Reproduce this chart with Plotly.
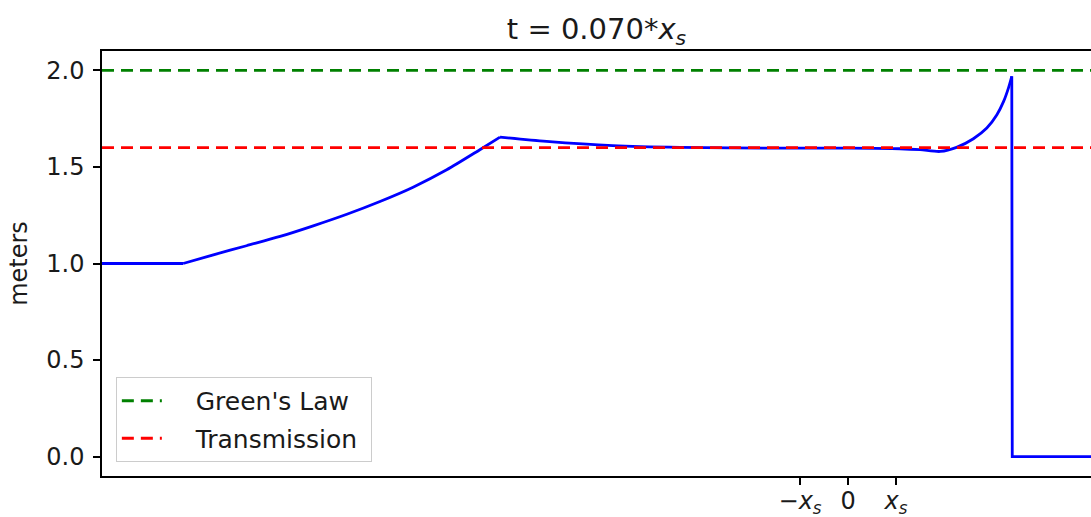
import plotly.graph_objects as go

# x in units of x_s
x_wave = [-15.54, -13.85, -13.22, -12.53, -11.83, -11.14, -10.44, -9.75, -9.06, -8.36,
          -7.67, -7.25, -6.28, -4.90, -3.50, -1.42, 0.0, 1.08, 1.50, 1.92, 2.26, 2.61,
          2.89, 3.10, 3.24, 3.34, 3.41, 3.42, 5.06]
h_wave = [1.0, 1.0, 1.045, 1.092, 1.140, 1.195, 1.255, 1.321, 1.395, 1.485,
          1.589, 1.654, 1.632, 1.610, 1.601, 1.597, 1.597, 1.594, 1.589, 1.580, 1.601, 1.646,
          1.701, 1.770, 1.839, 1.908, 1.969, 0.0, 0.0]

x_span = [-15.54, 5.06]
greens_law = [2.0, 2.0]
transmission = [1.6, 1.6]

xtick_vals = [-1, 0, 1]
xtick_text = ["\u2212<i>x<sub>s</sub></i>", "0", "<i>x<sub>s</sub></i>"]
ytick_vals = [0.0, 0.5, 1.0, 1.5, 2.0]

FONT = "DejaVu Sans"
BLUE = "#0000ff"
LW = 2.8
PAD = "\u00a0\u00a0\u00a0\u2009"

fig = go.Figure()
# piecewise: flat | smooth rise | smooth decay+spike | drop
segments = [(0, 2, "linear"), (1, 12, "spline"), (11, 27, "spline"), (26, 29, "linear")]
for a, b, shape in segments:
    fig.add_trace(go.Scatter(x=x_wave[a:b], y=h_wave[a:b], mode="lines",
                             line=dict(color=BLUE, width=LW, shape=shape, smoothing=0.8),
                             showlegend=False))
fig.add_trace(go.Scatter(x=x_span, y=greens_law, mode="lines",
                         name=PAD + "Green's Law",
                         legendgroup="g", line=dict(color="#008000", width=LW, dash="12px,7px")))
fig.add_trace(go.Scatter(x=x_span, y=transmission, mode="lines",
                         name=PAD + "Transmission\u00a0",
                         legendgroup="t", line=dict(color="#ff0000", width=LW, dash="12px,7px")))

fig.update_layout(
    width=1091, height=517,
    margin=dict(l=102, r=0, t=51, b=41),
    paper_bgcolor="white", plot_bgcolor="white",
    font=dict(family=FONT, size=24, color="#1a1a1a"),
    title=dict(text="t = 0.070*<i>x<sub>s</sub></i>", x=0.5, xanchor="center",
               xref="paper", y=1 - 29 / 517, yanchor="middle",
               font=dict(family=FONT, size=29, color="#1a1a1a")),
    legend=dict(x=0.014, y=0.033, xanchor="left", yanchor="bottom",
                bgcolor="rgba(255,255,255,0.8)", bordercolor="#cccccc", borderwidth=1,
                font=dict(family=FONT, size=25, color="#1a1a1a"),
                itemwidth=40, tracegroupgap=2),
    showlegend=True,
)
fig.update_xaxes(range=x_span, tickmode="array", tickvals=xtick_vals, ticktext=xtick_text,
                 showgrid=False, zeroline=False, showline=True, linecolor="black",
                 linewidth=1.5, mirror=True, ticks="outside", ticklen=7, tickwidth=1.5,
                 tickcolor="black", automargin=False, ticklabelstandoff=-5)
fig.update_yaxes(range=[-0.1, 2.1], tickmode="array", tickvals=ytick_vals,
                 tickformat=".1f", showgrid=False, zeroline=False, showline=True,
                 linecolor="black", linewidth=1.5, mirror=False, ticks="outside",
                 ticklen=7, tickwidth=1.5, tickcolor="black", automargin=False,
                 ticklabelstandoff=4,
                 title=dict(text="meters", standoff=12, font=dict(family=FONT, size=24)))

fig.write_html("out.html")
